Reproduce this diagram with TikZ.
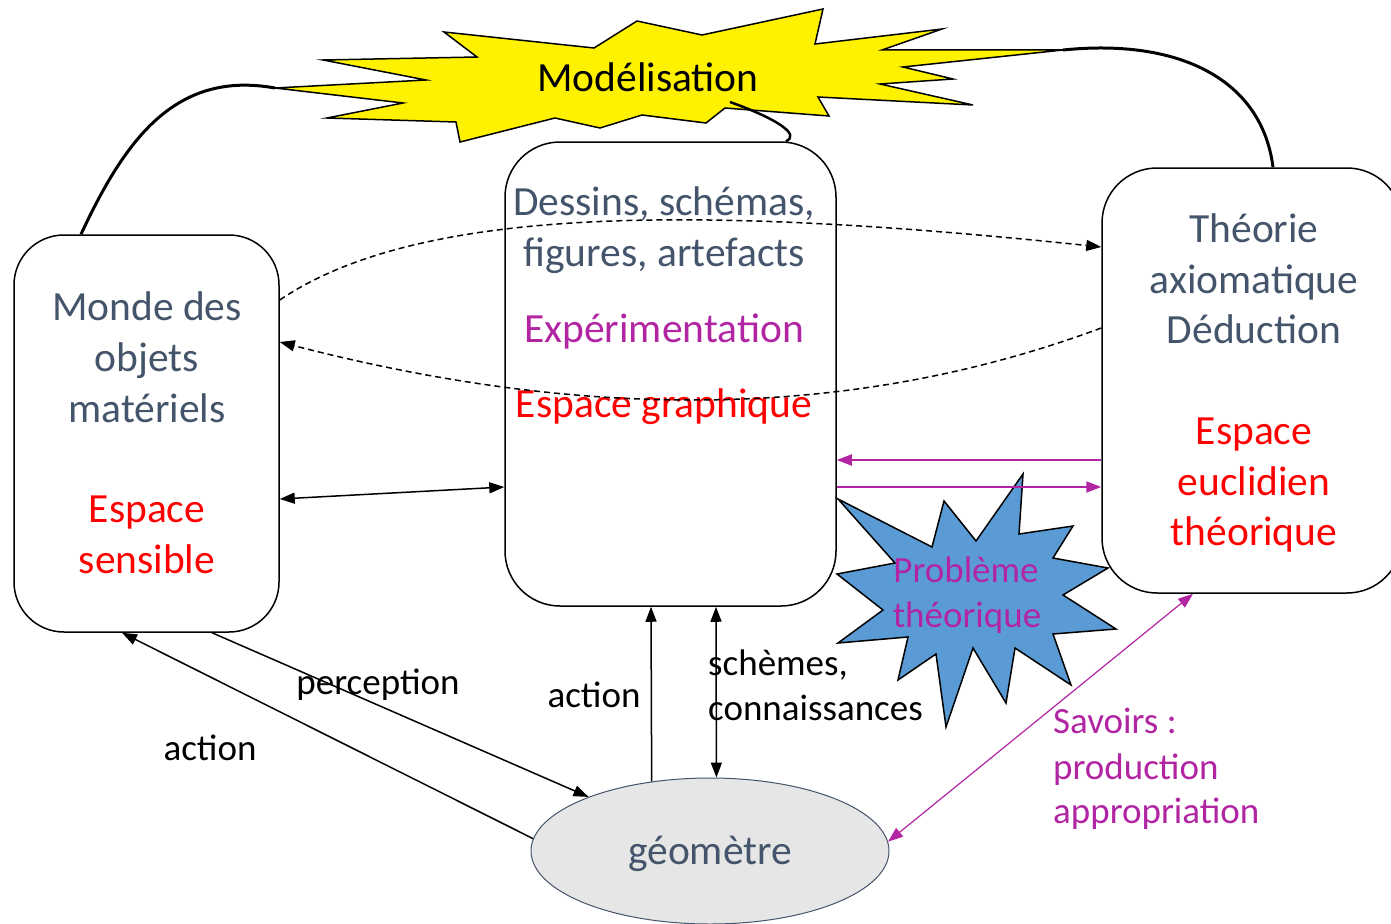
\documentclass[tikz,border=0pt]{standalone}
\usepackage{fontspec}
\setmainfont{Carlito}
\usetikzlibrary{arrows.meta,shapes.geometric}
\definecolor{slate}{HTML}{44546A}
\definecolor{mag}{RGB}{177,37,163}
\definecolor{starblue}{HTML}{5B9BD5}
\definecolor{ellfill}{HTML}{E7E6E6}
\begin{document}
\begin{tikzpicture}[x=1pt,y=-1pt,
  box/.style={draw=black,line width=1.5pt,rounded corners=50pt,inner sep=0pt},
  bigtxt/.style={inner sep=0pt,font=\fontsize{41.5pt}{50pt}\selectfont,text height=33pt,text depth=8.5pt},
  smalltxt/.style={inner sep=0pt,font=\fontsize{37pt}{45pt}\selectfont,text height=29.6pt,text depth=7.4pt},
  tip/.style={-{Triangle[length=15pt,width=11pt]}},
  dtip/.style={{Triangle[length=15pt,width=11pt]}-{Triangle[length=15pt,width=11pt]}},
  conn/.style={line width=1.5pt,black},
  magconn/.style={line width=2pt,mag},
  dashconn/.style={line width=1.5pt,dash pattern=on 6pt off 4pt,black},
  thick curve/.style={line width=3pt,black}
]
\path[use as bounding box] (0,0) rectangle (1391,923);
\clip (0,0) rectangle (1391,923);

% yellow star
\draw[fill=yellow,line width=1.5pt] (275,88) -- (426,80) -- (323,60) -- (477,57) -- (444,32) -- (594,48) -- (637,21) -- (702,35) -- (823,9) -- (815,44) -- (942,29) -- (882,50) -- (1063,50) -- (903,67) -- (953,79) -- (880,84) -- (973,105) -- (818,97) -- (829,116) -- (725,108) -- (706,123) -- (642,115) -- (600,128) -- (555,118) -- (460,142) -- (456,122) -- (327,118) -- (403,103) -- cycle;
\coordinate (sL) at (275,88);
\coordinate (sR) at (1063,50);
\coordinate (sB) at (730,102);
\node[bigtxt] (model) at (648,79) {Modélisation};

% boxes
\node[box,minimum width=265pt,minimum height=397pt] (L) at (146.5,433.5) {};
\node[box,minimum width=331pt,minimum height=464pt,rounded corners=55pt] (M) at (670.5,374) {};
\node[box,minimum width=300pt,minimum height=425pt,rounded corners=55pt] (R) at (1252,380.5) {};
\node[ellipse,draw=slate,line width=1pt,fill=ellfill,minimum width=358pt,minimum height=146pt,inner sep=0pt] (G) at (710,851) {};

% texts
\node[bigtxt,text=slate] (m1) at (147,308) {Monde des};
\node[bigtxt,text=slate] (m2) at (147,359) {objets};
\node[bigtxt,text=slate] (m3) at (147,410) {matériels};
\node[bigtxt,text=red] (m4) at (147,510) {Espace};
\node[bigtxt,text=red] (m5) at (147,561) {sensible};

\node[bigtxt,text=slate] (d1) at (664,203) {Dessins, schémas,};
\node[bigtxt,text=slate] (d2) at (664,254) {figures, artefacts};
\node[bigtxt,text=mag] (d3) at (664,330) {Expérimentation};
\node[bigtxt,text=red] (d4) at (664,405) {Espace graphique};

\node[bigtxt,text=slate] (t1) at (1254,230) {Théorie};
\node[bigtxt,text=slate] (t2) at (1254,281) {axiomatique};
\node[bigtxt,text=slate] (t3) at (1254,331) {Déduction};
\node[bigtxt,text=red] (t4) at (1254,432) {Espace};
\node[bigtxt,text=red] (t5) at (1254,483) {euclidien};
\node[bigtxt,text=red] (t6) at (1254,533) {théorique};

\node[bigtxt,text=slate] (geo) at (710,852) {géomètre};

% curves from Modélisation
\draw[thick curve] ([xshift=-65.5pt]L.north) .. controls (125,140) and (175,70) .. (sL);
\draw[thick curve] (sR) .. controls (1180,38) and (1262,80) .. ([xshift=21pt]R.north);
\draw[line width=2.5pt] (sB) .. controls (780,120) and (800,135) .. ([xshift=115.5pt]M.north);

% dashed connectors
\draw[dashconn,tip] ([yshift=133.5pt]L.east) .. controls (420,205) and (700,205) .. ([yshift=133.5pt]R.west);
\draw[dashconn,tip] ([yshift=52.5pt]R.west) .. controls (880,410) and (620,430) .. ([yshift=91.5pt]L.east);

% black connectors
\draw[conn,dtip] ([yshift=-65.5pt]L.east) -- ([yshift=-113pt]M.west);
\draw[conn,tip] (G.130.5) -- ([xshift=-19.5pt]M.south);
\draw[conn,dtip] ([xshift=45.5pt]M.south) -- (G.85.3);
\draw[conn,tip] ([xshift=65.5pt]L.south) -- (G.156);
\draw[conn,tip] (G.176) -- ([xshift=-24.5pt]L.south);

% blue star
\draw[fill=starblue,line width=1.5pt] (838,499) -- (932,547) -- (944,501) -- (976,541) -- (1023,474) -- (1019,534) -- (1073,526) -- (1053,558) -- (1108,568) -- (1063,595) -- (1116,629) -- (1053,634) -- (1071,685) -- (1015,648) -- (1006,703) -- (973,648) -- (946,727) -- (936,654) -- (898,680) -- (908,637) -- (838,643) -- (883,610) -- (837,574) -- (895,563) -- cycle;
\node[smalltxt,text=mag] (p1) at (966,571) {Problème};
\node[smalltxt,text=mag] (p2) at (967,616) {théorique};

% magenta connectors
\draw[magconn,tip] ([yshift=-79.5pt]R.west) -- ([yshift=-86pt]M.east);
\draw[magconn,tip] ([yshift=-113pt]M.east) -- ([yshift=-106.5pt]R.west);
\draw[mag,line width=1.2pt,dtip] ([xshift=-59pt]R.south) -- (G.3);

% labels
\node[smalltxt] (lperc) at (378,683) {perception};
\node[smalltxt] (lact1) at (210,749) {action};
\node[smalltxt] (lact2) at (594,696) {action};
\node[smalltxt,anchor=west] (lsch1) at (708,664) {schèmes,};
\node[smalltxt,anchor=west] (lsch2) at (708,709) {connaissances};
\node[smalltxt,anchor=west,text=mag] (lsav1) at (1053,722) {Savoirs :};
\node[smalltxt,anchor=west,text=mag] (lsav2) at (1053,768) {production};
\node[smalltxt,anchor=west,text=mag] (lsav3) at (1053,812) {appropriation};
\end{tikzpicture}
\end{document}
